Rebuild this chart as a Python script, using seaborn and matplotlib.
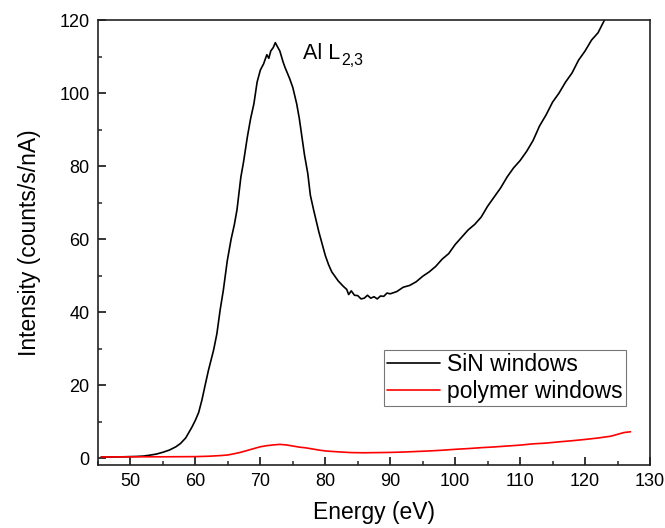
import matplotlib
matplotlib.use("Agg")
import matplotlib.pyplot as plt
from matplotlib.ticker import MultipleLocator
import seaborn as sns
import pandas as pd

# SiN windows spectrum (energy eV, intensity counts/s/nA)
sin_energy = [45.5, 47, 49, 50, 51, 52, 53, 54, 55, 56, 57, 57.7, 58.5, 59.5, 60, 60.5,
              61, 61.5, 62, 62.8, 63.3, 63.8, 64.3, 64.9, 65.5, 66, 66.4, 67, 67.4, 68,
              68.5, 69, 69.5, 70, 70.5, 71, 71.3, 71.6, 72, 72.3, 72.6, 73, 73.5, 73.8,
              74.5, 75, 75.6, 76, 76.8, 77.3, 77.7, 78.2, 79, 80, 80.5, 81, 82, 82.8,
              83.3, 83.6, 84, 84.5, 85, 85.5, 86, 86.5, 87, 87.5, 88, 88.5, 89, 89.5,
              90, 91, 92, 93, 94, 95, 96, 97, 98, 99, 100, 101, 102, 103, 104, 105,
              106, 107, 108, 109, 110, 111, 112, 113, 114, 115, 116, 117, 118, 119,
              120, 121, 122, 123, 124]
sin_intensity = [0.3, 0.3, 0.35, 0.4, 0.45, 0.55, 0.8, 1.1, 1.6, 2.2, 3.1, 4.0, 5.5, 8.6, 10.4, 12.5,
                 15.9, 20, 24, 29.6, 34, 40.5, 46, 54, 60, 64, 68, 77, 81, 88,
                 93, 97, 103, 106.3, 108, 110.5, 109.5, 111.5, 112.5, 113.8, 112.8, 111.5, 108.5, 107,
                 104, 101.5, 97, 93, 83, 78, 72, 68, 62, 55.5, 53, 51, 48.5, 47,
                 46.2, 44.8, 45.8, 44.6, 44.5, 43.6, 43.8, 44.6, 43.8, 44.2, 43.6, 44.4, 44.3, 45.2,
                 45, 45.6, 46.8, 47.3, 48.3, 49.8, 51, 52.5, 54.5, 56, 58.5, 60.5, 62.5, 64, 66, 69,
                 71.5, 74, 77, 79.5, 81.5, 84, 87, 91, 94, 97.5, 100, 103, 105.5, 109,
                 111.5, 114.5, 116.5, 120, 123]

# polymer windows spectrum
poly_energy = [45.5, 50, 55, 60, 62, 64, 65, 66, 67, 68, 69, 70, 71, 72, 73, 74, 75, 76, 77,
               78, 79, 80, 82, 84, 86, 88, 90, 92, 94, 96, 98, 100, 102, 104, 106, 108,
               110, 112, 114, 116, 118, 120, 122, 124, 125, 126, 127]
poly_intensity = [0.3, 0.35, 0.35, 0.4, 0.5, 0.7, 0.85, 1.2, 1.6, 2.1, 2.6, 3.1, 3.4, 3.6, 3.75,
                  3.6, 3.3, 3.0, 2.8, 2.5, 2.2, 1.95, 1.7, 1.5, 1.45, 1.5, 1.55, 1.65, 1.8,
                  1.95, 2.15, 2.4, 2.6, 2.85, 3.05, 3.3, 3.55, 3.9, 4.1, 4.45, 4.75, 5.1,
                  5.5, 6.0, 6.5, 7.0, 7.2]

series_labels = ["SiN windows", "polymer windows"]
x_ticks = [50, 60, 70, 80, 90, 100, 110, 120, 130]
y_ticks = [0, 20, 40, 60, 80, 100, 120]

sns.set_theme(style="ticks")
plt.rcParams["font.family"] = ["Liberation Sans", "DejaVu Sans"]
plt.rcParams["text.color"] = "black"
plt.rcParams["axes.labelcolor"] = "black"

df_sin = pd.DataFrame({"E": sin_energy, "I": sin_intensity})
df_poly = pd.DataFrame({"E": poly_energy, "I": poly_intensity})

fig = plt.figure(figsize=(6.65, 5.28), dpi=100)
ax = fig.add_axes([0.1474, 0.1193, 0.8300, 0.8428])

sns.lineplot(data=df_sin, x="E", y="I", ax=ax, color="black", linewidth=1.2,
             label=series_labels[0], sort=False)
sns.lineplot(data=df_poly, x="E", y="I", ax=ax, color="#ff0000", linewidth=1.2,
             label=series_labels[1], sort=False)

ax.set_xlim(45, 130)
ax.set_ylim(-1.9, 120)
ax.set_xticks(x_ticks)
ax.set_yticks(y_ticks)
ax.xaxis.set_minor_locator(MultipleLocator(5))
ax.yaxis.set_minor_locator(MultipleLocator(10))
ax.tick_params(axis="both", which="major", direction="in", length=6, width=1.1,
               labelsize=13, colors="black", pad=6)
ax.tick_params(axis="both", which="minor", direction="in", length=3, width=1.1)
for s in ax.spines.values():
    s.set_visible(True)
    s.set_linewidth(1.2)
    s.set_color("#222222")

ax.set_xlabel("Energy (eV)", fontsize=16.5, labelpad=8)
ax.set_ylabel("Intensity (counts/s/nA)", fontsize=16.5, labelpad=13)

main_t = ax.text(76.6, 109.3, "Al L", fontsize=15.5, color="black", va="baseline")
ax.annotate("2,3", xy=(1, 0), xycoords=main_t, xytext=(0.5, -0.5),
            textcoords="offset points", fontsize=11.5, color="black", va="baseline")

leg = ax.legend(loc="lower right", bbox_to_anchor=(0.9565, 0.1326), borderaxespad=0,
                fontsize=16.5, frameon=True, fancybox=False, handlelength=2.3,
                handletextpad=0.3, borderpad=0.15, labelspacing=0.15)
leg.get_frame().set_edgecolor("#555555")
leg.get_frame().set_linewidth(0.8)
for line in leg.get_lines():
    line.set_linewidth(1.2)
for t in leg.get_texts():
    t.set_color("black")

fig.savefig("out.png", dpi=100)
